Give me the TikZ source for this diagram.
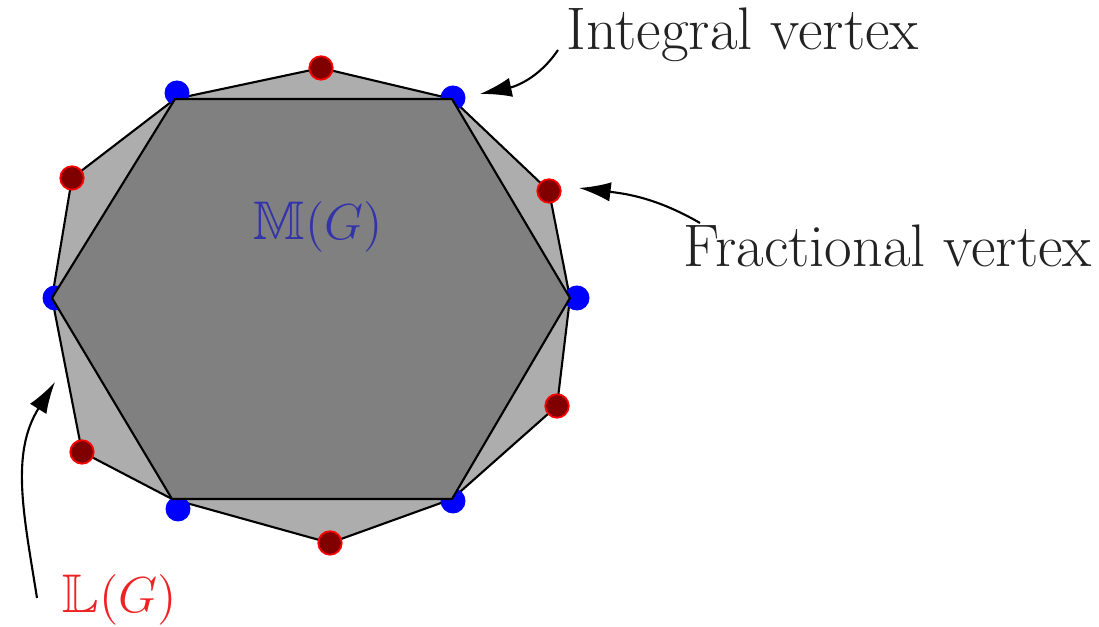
\documentclass[tikz,border=0pt]{standalone}
\usepackage{xcolor}
\usepackage{amsmath,amssymb}
\usepackage{tikz}
\usetikzlibrary{arrows.meta}
\definecolor{mblue}{HTML}{3333AA}
\definecolor{lred}{HTML}{EE2222}
\definecolor{txt}{HTML}{222222}

\begin{document}
\begin{tikzpicture}[scale=1,
      bdot/.style={circle,fill=blue,minimum size=2.5mm,inner sep=0pt},
      rdot/.style={circle,draw=red,fill=red!50!black,line width=0.5pt,minimum size=2.35mm,inner sep=0pt},
      lbl/.style={font=\fontsize{17.1}{20}\selectfont,inner sep=0pt,anchor=base west},
      mlbl/.style={font=\fontsize{15.5}{18}\selectfont,inner sep=0pt,anchor=base west},
      arr/.style={-{Latex[length=9pt,width=5.5pt]},line width=0.6pt}]
    \useasboundingbox (0,0) rectangle (10.99,6.27);
    % corners of the two polytopes
    \foreach \i/\x/\y in {1/1.75/5.28,2/4.52/5.28,3/5.70/3.29,4/4.52/1.28,5/1.72/1.28,6/0.52/3.29}
      \coordinate (h\i) at (\x,\y);
    \foreach \i/\x/\y in {1/3.21/5.59,2/5.49/4.36,3/5.57/2.21,4/3.30/0.84,5/0.82/1.75,6/0.72/4.49}
      \coordinate (r\i) at (\x,\y);
    \filldraw[fill=black!32,line width=0.6pt,line join=round]
      (h1) -- (r1) -- (h2) -- (r2) -- (h3) -- (r3) -- (h4) -- (r4) -- (h5) -- (r5) -- (h6) -- (r6) -- cycle;
    \foreach \i/\x/\y in {1/1.77/5.34,2/4.53/5.29,3/5.77/3.29,4/4.53/1.26,5/1.78/1.18,6/0.55/3.29}
      \node[bdot] (b\i) at (\x,\y) {};
    \filldraw[fill=black!50,line width=0.6pt,line join=round]
      (h1) -- (h2) -- (h3) -- (h4) -- (h5) -- (h6) -- cycle;
    \foreach \i in {1,...,6}
      \node[rdot] (f\i) at (r\i) {};
    % labels
    \node[mlbl,text=mblue] (mg) at (2.53,3.87) {$\mathbb{M}(G)$};
    \node[mlbl,text=lred] (lg) at (0.62,0.14) {$\mathbb{L}(G)$};
    \node[lbl,text=txt] (intv) at (5.66,5.77) {Integral vertex};
    \node[lbl,text=txt] (frv) at (6.83,3.60) {Fractional vertex};
    % arrows
    \coordinate (ia) at (5.58,5.77);
    \coordinate (ib) at (4.80,5.33);
    \coordinate (fa) at (7.00,4.04);
    \coordinate (fb) at (5.79,4.39);
    \coordinate (la) at (0.37,0.29);
    \coordinate (lb) at (0.55,2.45);
    \draw[arr] (ia) to[out=236,in=12] (ib);
    \draw[arr] (fa) to[out=150,in=-7] (fb);
    \draw[arr] (la) to[out=99,in=238] (lb);
  \end{tikzpicture}
\end{document}
